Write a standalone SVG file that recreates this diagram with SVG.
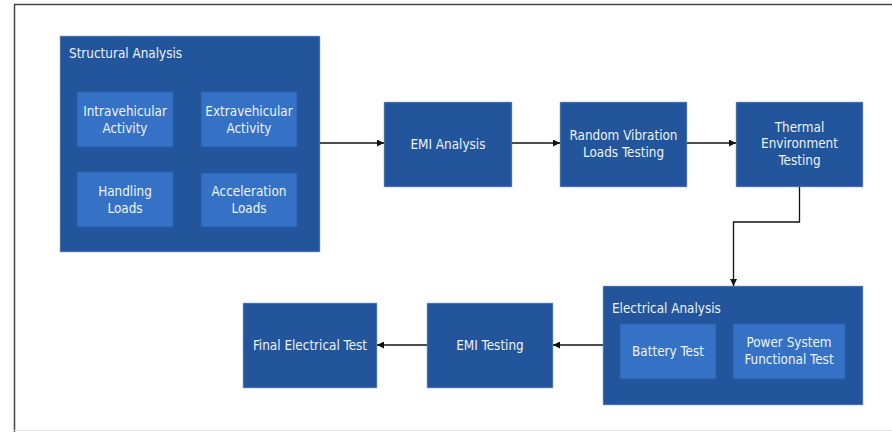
<svg xmlns="http://www.w3.org/2000/svg" width="892" height="432" viewBox="0 0 892 432">
<style>
.dk{fill:#22559b;stroke:#9fb3d1;stroke-width:0.6}
.lt{fill:#3572c6;stroke:#2a5ea6;stroke-width:0.8}
text{font-family:"DejaVu Sans Condensed","Liberation Sans",sans-serif;font-size:13.4px;fill:#eef2f9;text-anchor:middle;dominant-baseline:central}
.ttl{text-anchor:start}
.c{fill:none;stroke:#111;stroke-width:1.3}
</style>
<defs>
<marker id="ah" viewBox="0 0 10 10" refX="10" refY="5" markerWidth="7" markerHeight="7" orient="auto" markerUnits="userSpaceOnUse">
<path d="M0,0 L10,5 L0,10 z" fill="#111"/>
</marker>
</defs>
<rect x="0" y="0" width="892" height="432" fill="#fff"/>
<path d="M14.5,432 V4.5 H892" fill="none" stroke="#444" stroke-width="1.5"/>
<line x1="14" y1="430.5" x2="892" y2="430.5" stroke="#e4e4e4" stroke-width="1"/>

<g id="structural">
<rect class="dk" x="60" y="36" width="260" height="216"/>
<text class="ttl" x="69" y="53">Structural Analysis</text>
<g id="intravehicular"><rect class="lt" x="77" y="92" width="96" height="55"/><text x="125" y="111">Intravehicular</text><text x="125" y="128">Activity</text></g>
<g id="extravehicular"><rect class="lt" x="201" y="92" width="96" height="55"/><text x="249" y="111">Extravehicular</text><text x="249" y="128">Activity</text></g>
<g id="handling"><rect class="lt" x="77" y="172" width="96" height="55"/><text x="125" y="191">Handling</text><text x="125" y="208">Loads</text></g>
<g id="acceleration"><rect class="lt" x="201" y="173" width="96" height="54"/><text x="249" y="191">Acceleration</text><text x="249" y="208">Loads</text></g>
</g>

<g id="emi-analysis"><rect class="dk" x="384" y="102" width="128" height="85"/><text x="448" y="144">EMI Analysis</text></g>
<g id="random-vibration"><rect class="dk" x="560" y="102" width="127" height="85"/><text x="623.5" y="135">Random Vibration</text><text x="623.5" y="152">Loads Testing</text></g>
<g id="thermal"><rect class="dk" x="736" y="102" width="127" height="85"/><text x="799.5" y="127">Thermal</text><text x="799.5" y="143.5">Environment</text><text x="799.5" y="160">Testing</text></g>

<g id="electrical">
<rect class="dk" x="603" y="286" width="260" height="119"/>
<text class="ttl" x="612" y="308">Electrical Analysis</text>
<g id="battery"><rect class="lt" x="620" y="324" width="96" height="55"/><text x="668" y="351">Battery Test</text></g>
<g id="power"><rect class="lt" x="733" y="324" width="112" height="55"/><text x="789" y="342">Power System</text><text x="789" y="359">Functional Test</text></g>
</g>

<g id="emi-testing"><rect class="dk" x="427" y="303" width="126" height="85"/><text x="490" y="345">EMI Testing</text></g>
<g id="final"><rect class="dk" x="243" y="303" width="134" height="85"/><text x="310" y="345">Final Electrical Test</text></g>

<g id="connectors">
<line class="c" x1="320" y1="143" x2="384" y2="143" marker-end="url(#ah)"/>
<line class="c" x1="512" y1="143" x2="560" y2="143" marker-end="url(#ah)"/>
<line class="c" x1="687" y1="143" x2="736" y2="143" marker-end="url(#ah)"/>
<path class="c" d="M799.5,187 V222 H733.5 V286" marker-end="url(#ah)"/>
<line class="c" x1="603" y1="345" x2="553" y2="345" marker-end="url(#ah)"/>
<line class="c" x1="427" y1="345" x2="377" y2="345" marker-end="url(#ah)"/>
</g>
</svg>
